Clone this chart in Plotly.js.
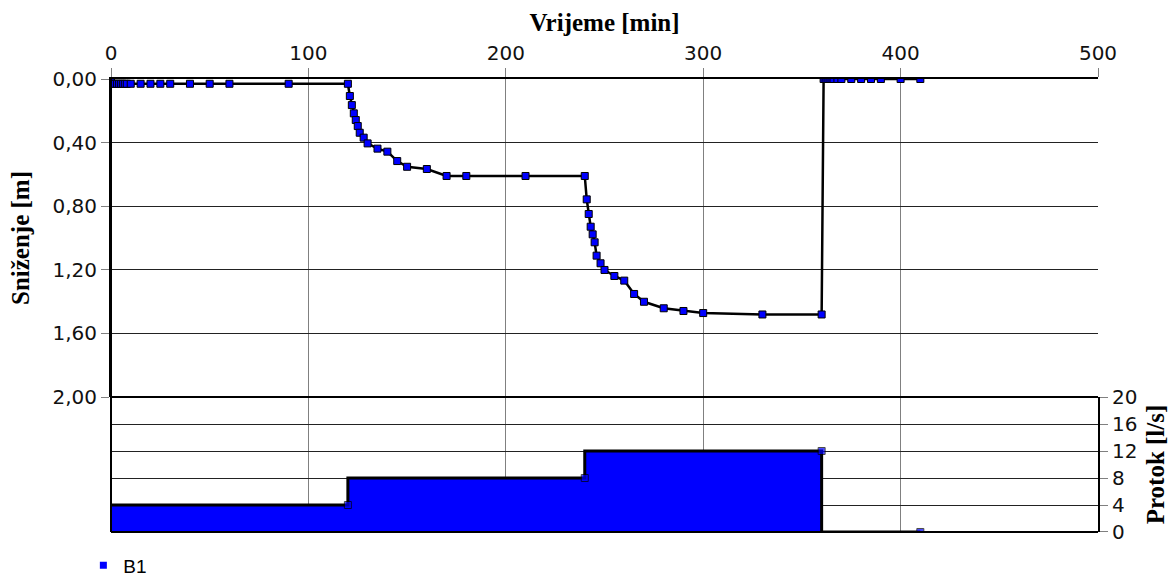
<!DOCTYPE html>
<html>
<head>
<meta charset="utf-8">
<script src="https://cdn.plot.ly/plotly-3.0.1.min.js"></script>
<style>html,body{margin:0;padding:0;background:#fff;}#chart{width:1173px;height:577px;}</style>
</head>
<body>
<div id="chart"></div>
<script>
// Drawdown series B1 (time in min, drawdown in m)
var timeMin = [0, 1, 2, 3, 4, 5, 6, 7, 8, 10, 15, 20, 25, 30, 40, 50, 60, 90, 120,
  121, 122, 123, 124, 125, 126, 128, 130, 135, 140, 145, 150, 160, 170, 180, 210, 240,
  241, 242, 243, 244, 245, 246, 248, 250, 255, 260, 265, 270, 280, 290, 300, 330, 360,
  361, 362, 363, 364, 365, 366, 368, 370, 375, 380, 385, 390, 400, 410];
var drawdown = [0, 0.03, 0.03, 0.03, 0.03, 0.03, 0.03, 0.03, 0.03, 0.03, 0.03, 0.03, 0.03, 0.03, 0.03, 0.03, 0.03, 0.03, 0.03,
  0.107, 0.164, 0.216, 0.258, 0.296, 0.338, 0.369, 0.405, 0.438, 0.457, 0.516, 0.552, 0.566, 0.61, 0.61, 0.61, 0.61,
  0.757, 0.849, 0.929, 0.977, 1.027, 1.111, 1.159, 1.201, 1.239, 1.268, 1.352, 1.401, 1.442, 1.459, 1.472, 1.481, 1.481,
  0, 0, 0, 0, 0, 0, 0, 0, 0, 0, 0, 0, 0, 0];

// Pumping rate steps (time in min, rate in l/s)
var rateTime = [0, 120, 240, 360, 410];
var rateValue = [4, 4, 8, 12, 0];

// Axis ticks
var xTicks = [0, 100, 200, 300, 400, 500];
var yTicks = [0, 0.4, 0.8, 1.2, 1.6, 2.0];
var y2Ticks = [0, 4, 8, 12, 16, 20];
var seriesName = 'B1';

var blue = '#0000FF';
var tickFont = {family: 'DejaVu Sans, Verdana, sans-serif', size: 20, color: '#111'};
var titleFont = {family: 'Liberation Serif, Times New Roman, serif', size: 25, color: '#000', weight: 'bold'};

var traces = [
  {
    x: rateTime, y: rateValue, xaxis: 'x', yaxis: 'y2',
    mode: 'lines+markers', line: {shape: 'vh', color: '#000', width: 3},
    fill: 'tozeroy', fillcolor: blue,
    marker: {symbol: 'square', size: [0, 7, 7, 7, 7], color: blue, line: {color: '#000', width: 1}},
    showlegend: false, cliponaxis: true, hoverinfo: 'x+y'
  },
  {
    x: timeMin, y: drawdown, xaxis: 'x', yaxis: 'y',
    mode: 'lines+markers', line: {color: '#000', width: 2.5},
    marker: {symbol: 'square', size: 7, color: blue, line: {color: '#000', width: 1}},
    showlegend: false, cliponaxis: true, name: seriesName
  },
  {
    x: [null], y: [null], xaxis: 'x', yaxis: 'y',
    mode: 'markers', name: seriesName,
    marker: {symbol: 'square', size: 7, color: blue},
    showlegend: true
  }
];

var layout = {
  width: 1173, height: 577,
  margin: {l: 111, r: 75, t: 79, b: 45, pad: 0, autoexpand: false},
  paper_bgcolor: '#fff', plot_bgcolor: '#fff',
  separators: ', ',
  showlegend: true,
  legend: {x: -0.028, xanchor: 'left', y: -0.032, yanchor: 'top', orientation: 'h',
    font: {family: 'Liberation Sans, Arial, sans-serif', size: 19, color: '#000'},
    bgcolor: 'rgba(0,0,0,0)'},
  xaxis: {
    side: 'top', anchor: 'y', range: [0, 500], tickvals: xTicks,
    showgrid: true, gridcolor: '#808080', gridwidth: 1,
    ticks: 'outside', ticklen: 9, tickcolor: '#808080', tickwidth: 1,
    showline: true, linecolor: '#000', linewidth: 2, zeroline: false,
    tickfont: tickFont, automargin: false,
    title: {text: 'Vrijeme [min]', font: titleFont, standoff: 2}
  },
  yaxis: {
    domain: [0.298, 1], anchor: 'x', range: [2.0, 0], tickvals: yTicks, tickformat: '.2f',
    showgrid: true, gridcolor: '#222', gridwidth: 1,
    ticks: 'outside', ticklen: 8, tickcolor: '#808080', tickwidth: 1,
    showline: true, linecolor: '#000', linewidth: 2, zeroline: false,
    tickfont: tickFont, automargin: false,
    title: {text: 'Sniženje [m]', font: titleFont, standoff: 16}
  },
  yaxis2: {
    domain: [0, 0.298], anchor: 'x', side: 'right', range: [0, 20], tickvals: y2Ticks,
    showgrid: true, gridcolor: '#222', gridwidth: 1,
    ticks: 'outside', ticklen: 8, tickcolor: '#808080', tickwidth: 1,
    showline: true, linecolor: '#000', linewidth: 2, zeroline: false,
    tickfont: tickFont, automargin: false,
    title: {text: 'Protok [l/s]', font: titleFont, standoff: 10}
  },
  shapes: [
    {type: 'line', xref: 'paper', yref: 'paper', x0: 0, x1: 1, y0: 0.298, y1: 0.298, line: {color: '#000', width: 2}},
    {type: 'line', xref: 'paper', yref: 'paper', x0: 0, x1: 1, y0: 0, y1: 0, line: {color: '#000', width: 2}},
    {type: 'line', xref: 'paper', yref: 'paper', x0: 0, x1: 0, y0: 0, y1: 1, line: {color: '#000', width: 2}}
  ]
};

Plotly.newPlot('chart', traces, layout, {displayModeBar: false, staticPlot: true});
</script>
</body>
</html>
